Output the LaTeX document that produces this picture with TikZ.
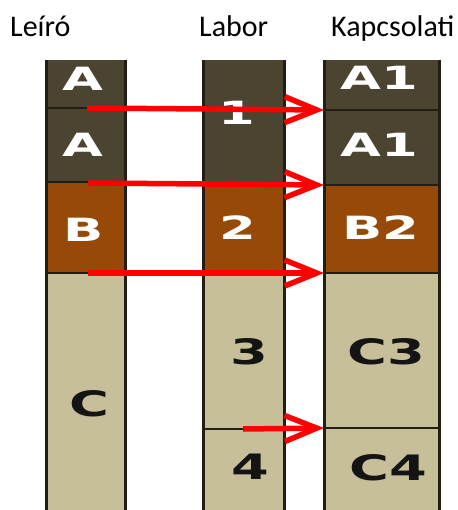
\documentclass[tikz,border=0pt]{standalone}
\usepackage{fontspec}
\setmainfont{Carlito}
\newfontfamily\blockfont{DejaVu Sans Bold}
\usetikzlibrary{arrows.meta}
\definecolor{dk}{HTML}{4A4430}
\definecolor{br}{HTML}{974A08}
\definecolor{tn}{HTML}{C6BF9A}
\definecolor{ln}{HTML}{221E14}
\definecolor{rd}{HTML}{FF0000}
\tikzset{
  cell/.style={anchor=north west, inner sep=0pt, outer sep=0pt, draw=none},
  hdr/.style={anchor=base west, inner sep=0pt, font=\fontsize{30}{36}\selectfont},
  wt/.style={inner sep=0pt, font=\blockfont\fontsize{32}{38}\selectfont, xscale=1.65, text=white},
  bk/.style={inner sep=0pt, font=\blockfont\fontsize{35}{40}\selectfont, xscale=1.55, text=black!92},
  sideline/.style={draw=ln, line width=3pt},
  divline/.style={draw=ln, line width=2.2pt},
  arr/.style={draw=rd, line width=5.5pt, -{Straight Barb[length=32pt, width=26pt]}}
}
\begin{document}
\begin{tikzpicture}[x=1pt,y=-1pt]
\useasboundingbox (0,0) rectangle (457,510);
\fill[white] (0,0) rectangle (457,510);
% headers
\node[hdr] (h1) at (10,37) {Leíró};
\node[hdr] (h2) at (199,37) {Labor};
\node[hdr] (h3) at (331,37) {Kapcsolati};
% column 1
\node[cell, fill=dk, minimum width=79pt, minimum height=48pt] (c1a) at (46,60) {};
\node[cell, fill=dk, minimum width=79pt, minimum height=74pt] (c1b) at (46,108) {};
\node[cell, fill=br, minimum width=79pt, minimum height=91pt] (c1c) at (46,182) {};
\node[cell, fill=tn, minimum width=79pt, minimum height=237pt] (c1d) at (46,273) {};
% column 2
\node[cell, fill=dk, minimum width=81pt, minimum height=123pt] (c2a) at (203,60) {};
\node[cell, fill=br, minimum width=81pt, minimum height=90pt] (c2b) at (203,183) {};
\node[cell, fill=tn, minimum width=81pt, minimum height=156pt] (c2c) at (203,273) {};
\node[cell, fill=tn, minimum width=81pt, minimum height=81pt] (c2d) at (203,429) {};
% column 3
\node[cell, fill=dk, minimum width=115pt, minimum height=50pt] (c3a) at (324,60) {};
\node[cell, fill=dk, minimum width=115pt, minimum height=75pt] (c3b) at (324,110) {};
\node[cell, fill=br, minimum width=115pt, minimum height=88pt] (c3c) at (324,185) {};
\node[cell, fill=tn, minimum width=115pt, minimum height=155pt] (c3d) at (324,273) {};
\node[cell, fill=tn, minimum width=115pt, minimum height=82pt] (c3e) at (324,428) {};
% dividers
\draw[divline] (c1a.south west) -- (c1a.south east);
\draw[divline] (c1b.south west) -- (c1b.south east);
\draw[divline] (c1c.south west) -- (c1c.south east);
\draw[divline] (c2a.south west) -- (c2a.south east);
\draw[divline] (c2b.south west) -- (c2b.south east);
\draw[divline] (c2c.south west) -- (c2c.south east);
\draw[divline] (c3a.south west) -- (c3a.south east);
\draw[divline] (c3b.south west) -- (c3b.south east);
\draw[divline] (c3c.south west) -- (c3c.south east);
\draw[divline] (c3d.south west) -- (c3d.south east);
% side lines
\draw[sideline] (c1a.north west) -- (c1d.south west);
\draw[sideline] (c1a.north east) -- (c1d.south east);
\draw[sideline] (c2a.north west) -- (c2d.south west);
\draw[sideline] (c2a.north east) -- (c2d.south east);
\draw[sideline] (c3a.north west) -- (c3e.south west);
\draw[sideline] (c3a.north east) -- (c3e.south east);
% texts
\node[wt] (t1a) at (83,79) {A};
\node[wt] (t1b) at (83,145) {A};
\node[wt] (t1c) at (84,230) {B};
\node[bk] (t1d) at (89,404) {C};
\node[wt] (t2a) at (237,113) {1};
\node[wt] (t2b) at (238,228) {2};
\node[bk] (t2c) at (249,352) {3};
\node[bk] (t2d) at (250,467) {4};
\node[wt] (t3a) at (379,78) {A1};
\node[wt] (t3b) at (379,145) {A1};
\node[wt] (t3c) at (381,228) {B2};
\node[bk] (t3d) at (386,352) {C3};
\node[bk] (t3e) at (388,468) {C4};
% arrows
\coordinate (s1) at (87,108);
\coordinate (s2) at (88,183);
\coordinate (s3) at (88,273);
\coordinate (s4) at (243,429);
\draw[arr] (s1) -- (c3b.north west);
\draw[arr] (s2) -- (c3c.north west);
\draw[arr] (s3) -- (c3d.north west);
\draw[arr] (s4) -- (c3e.north west);
\end{tikzpicture}
\end{document}
